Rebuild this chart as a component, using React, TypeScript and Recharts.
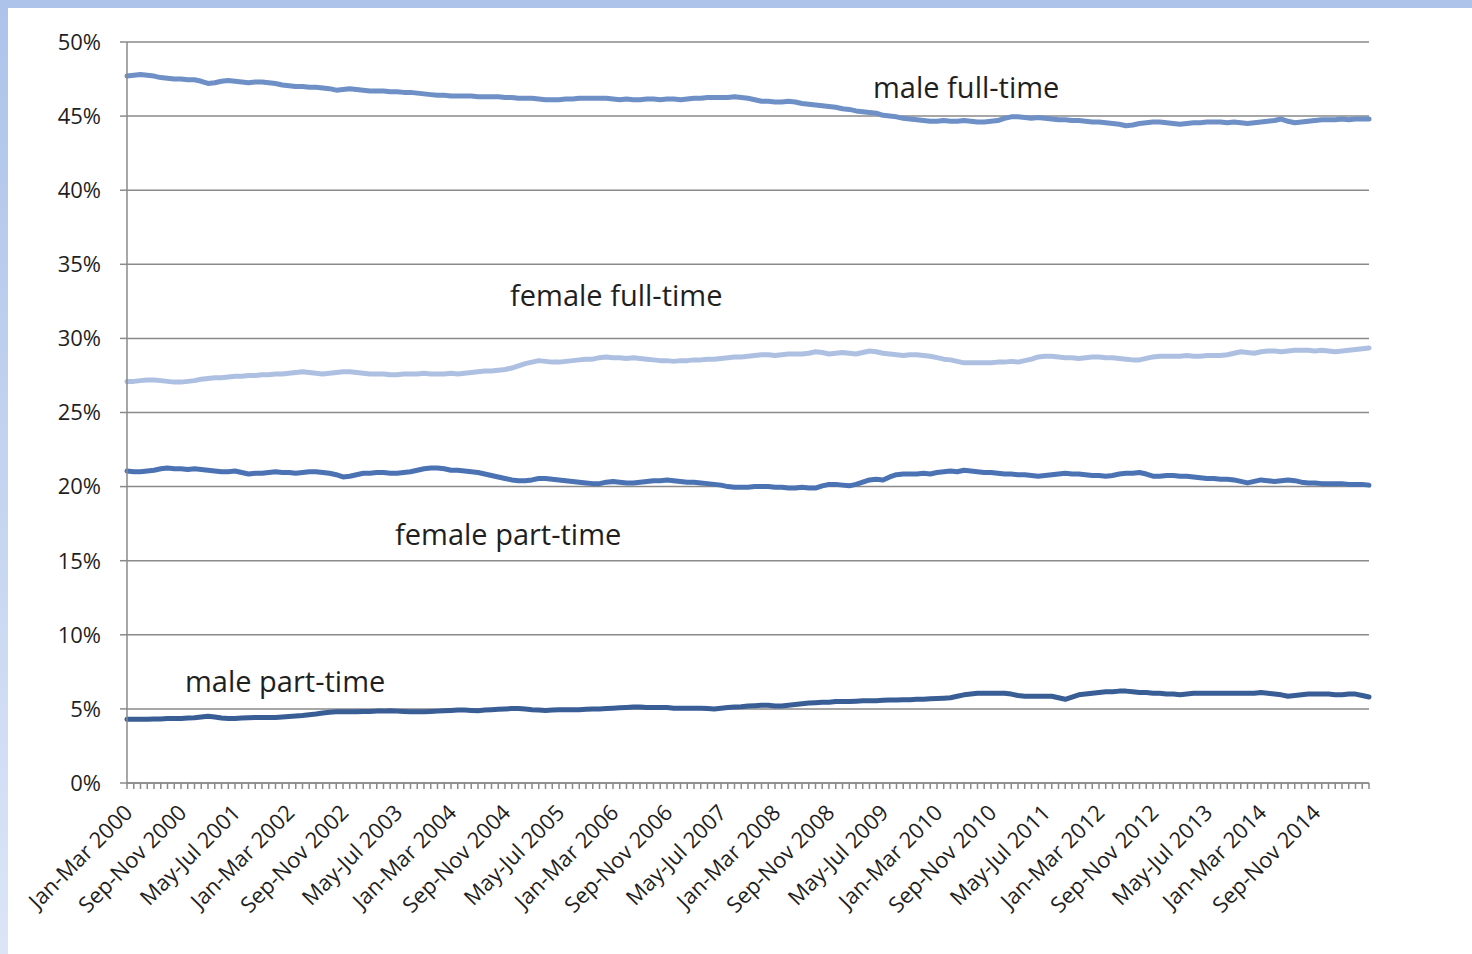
import React from 'react';
import { LineChart, Line, XAxis, YAxis, CartesianGrid } from 'recharts';

const MONTHS = ['Jan', 'Feb', 'Mar', 'Apr', 'May', 'Jun', 'Jul', 'Aug', 'Sep', 'Oct', 'Nov', 'Dec'];
const START_YEAR = 2000;
const N_PERIODS = 185;
const categories: string[] = Array.from({ length: N_PERIODS }, (_, i) => {
  const m = i % 12;
  const y = START_YEAR + Math.floor(i / 12);
  return `${MONTHS[m]}-${MONTHS[(m + 2) % 12]} ${y}`;
});

const yTicks = [0, 5, 10, 15, 20, 25, 30, 35, 40, 45, 50];

const maleFullTime = [
  47.7, 47.75, 47.8, 47.75, 47.7, 47.6, 47.55, 47.5, 47.5, 47.45,
  47.45, 47.35, 47.2, 47.25, 47.35, 47.4, 47.35, 47.3, 47.25, 47.3,
  47.3, 47.25, 47.2, 47.1, 47.05, 47.0, 47.0, 46.95, 46.95, 46.9,
  46.85, 46.75, 46.8, 46.85, 46.8, 46.75, 46.7, 46.7, 46.7, 46.65,
  46.65, 46.6, 46.6, 46.55, 46.5, 46.45, 46.4, 46.4, 46.35, 46.35,
  46.35, 46.35, 46.3, 46.3, 46.3, 46.3, 46.25, 46.25, 46.2, 46.2,
  46.2, 46.15, 46.1, 46.1, 46.1, 46.15, 46.15, 46.2, 46.2, 46.2,
  46.2, 46.2, 46.15, 46.1, 46.15, 46.1, 46.1, 46.15, 46.15, 46.1,
  46.15, 46.15, 46.1, 46.15, 46.2, 46.2, 46.25, 46.25, 46.25, 46.25,
  46.3, 46.25, 46.2, 46.1, 46.0, 46.0, 45.95, 45.95, 46.0, 45.95,
  45.85, 45.8, 45.75, 45.7, 45.65, 45.6, 45.5, 45.45, 45.35, 45.3,
  45.25, 45.2, 45.05, 45.0, 44.95, 44.85, 44.8, 44.75, 44.7, 44.65,
  44.65, 44.7, 44.65, 44.65, 44.7, 44.65, 44.6, 44.6, 44.65, 44.7,
  44.85, 44.95, 44.95, 44.9, 44.85, 44.9, 44.85, 44.8, 44.75, 44.75,
  44.7, 44.7, 44.65, 44.6, 44.6, 44.55, 44.5, 44.45, 44.35, 44.4,
  44.5, 44.55, 44.6, 44.6, 44.55, 44.5, 44.45, 44.5, 44.55, 44.55,
  44.6, 44.6, 44.6, 44.55, 44.6, 44.55, 44.5, 44.55, 44.6, 44.65,
  44.7, 44.8, 44.65, 44.55, 44.6, 44.65, 44.7, 44.75, 44.75, 44.75,
  44.8, 44.75, 44.8, 44.8, 44.8,
];

const femaleFullTime = [
  27.1, 27.1, 27.15, 27.2, 27.2, 27.15, 27.1, 27.05, 27.05, 27.1,
  27.15, 27.25, 27.3, 27.35, 27.35, 27.4, 27.45, 27.45, 27.5, 27.5,
  27.55, 27.55, 27.6, 27.6, 27.65, 27.7, 27.75, 27.7, 27.65, 27.6,
  27.65, 27.7, 27.75, 27.75, 27.7, 27.65, 27.6, 27.6, 27.6, 27.55,
  27.55, 27.6, 27.6, 27.6, 27.65, 27.6, 27.6, 27.6, 27.65, 27.6,
  27.65, 27.7, 27.75, 27.8, 27.8, 27.85, 27.9, 28.0, 28.15, 28.3,
  28.4, 28.5, 28.45, 28.4, 28.4, 28.45, 28.5, 28.55, 28.6, 28.6,
  28.7, 28.75, 28.7, 28.7, 28.65, 28.7, 28.65, 28.6, 28.55, 28.5,
  28.5, 28.45, 28.5, 28.5, 28.55, 28.55, 28.6, 28.6, 28.65, 28.7,
  28.75, 28.75, 28.8, 28.85, 28.9, 28.9, 28.85, 28.9, 28.95, 28.95,
  28.95, 29.0, 29.1, 29.05, 28.95, 29.0, 29.05, 29.0, 28.95, 29.05,
  29.15, 29.1, 29.0, 28.95, 28.9, 28.85, 28.9, 28.9, 28.85, 28.8,
  28.7, 28.6, 28.55, 28.45, 28.35, 28.35, 28.35, 28.35, 28.35, 28.4,
  28.4, 28.45, 28.4, 28.5, 28.6, 28.75, 28.8, 28.8, 28.75, 28.7,
  28.7, 28.65, 28.7, 28.75, 28.75, 28.7, 28.7, 28.65, 28.6, 28.55,
  28.55, 28.65, 28.75, 28.8, 28.8, 28.8, 28.8, 28.85, 28.8, 28.8,
  28.85, 28.85, 28.85, 28.9, 29.0, 29.1, 29.05, 29.0, 29.1, 29.15,
  29.15, 29.1, 29.15, 29.2, 29.2, 29.2, 29.15, 29.2, 29.15, 29.1,
  29.15, 29.2, 29.25, 29.3, 29.35,
];

const femalePartTime = [
  21.05, 21.0, 21.0, 21.05, 21.1, 21.2, 21.25, 21.2, 21.2, 21.15,
  21.2, 21.15, 21.1, 21.05, 21.0, 21.0, 21.05, 20.95, 20.85, 20.9,
  20.9, 20.95, 21.0, 20.95, 20.95, 20.9, 20.95, 21.0, 21.0, 20.95,
  20.9, 20.8, 20.65, 20.7, 20.8, 20.9, 20.9, 20.95, 20.95, 20.9,
  20.9, 20.95, 21.0, 21.1, 21.2, 21.25, 21.25, 21.2, 21.1, 21.1,
  21.05, 21.0, 20.95, 20.85, 20.75, 20.65, 20.55, 20.45, 20.4, 20.4,
  20.45, 20.55, 20.55, 20.5, 20.45, 20.4, 20.35, 20.3, 20.25, 20.2,
  20.2, 20.3, 20.35, 20.3, 20.25, 20.25, 20.3, 20.35, 20.4, 20.4,
  20.45, 20.4, 20.35, 20.3, 20.3, 20.25, 20.2, 20.15, 20.1, 20.0,
  19.95, 19.95, 19.95, 20.0, 20.0, 20.0, 19.95, 19.95, 19.9, 19.9,
  19.95, 19.9, 19.9, 20.05, 20.15, 20.15, 20.1, 20.05, 20.15, 20.3,
  20.45, 20.5, 20.45, 20.65, 20.8, 20.85, 20.85, 20.85, 20.9, 20.85,
  20.95, 21.0, 21.05, 21.0, 21.1, 21.05, 21.0, 20.95, 20.95, 20.9,
  20.85, 20.85, 20.8, 20.8, 20.75, 20.7, 20.75, 20.8, 20.85, 20.9,
  20.85, 20.85, 20.8, 20.75, 20.75, 20.7, 20.75, 20.85, 20.9, 20.9,
  20.95, 20.85, 20.7, 20.7, 20.75, 20.75, 20.7, 20.7, 20.65, 20.6,
  20.55, 20.55, 20.5, 20.5, 20.45, 20.35, 20.25, 20.35, 20.45, 20.4,
  20.35, 20.4, 20.45, 20.4, 20.3, 20.25, 20.25, 20.2, 20.2, 20.2,
  20.2, 20.15, 20.15, 20.15, 20.1,
];

const malePartTime = [
  4.3, 4.3, 4.3, 4.3, 4.32, 4.32, 4.35, 4.35, 4.35, 4.38,
  4.4, 4.45, 4.5, 4.45, 4.38, 4.35, 4.35, 4.38, 4.4, 4.42,
  4.42, 4.42, 4.42, 4.45, 4.48, 4.52, 4.55, 4.6, 4.65, 4.72,
  4.78, 4.8, 4.8, 4.8, 4.8, 4.82, 4.82, 4.85, 4.85, 4.87,
  4.85, 4.82, 4.8, 4.8, 4.8, 4.82, 4.85, 4.88, 4.9, 4.92,
  4.92, 4.9, 4.88, 4.92, 4.95, 4.98, 5.0, 5.02, 5.02, 5.0,
  4.95, 4.92, 4.9, 4.92, 4.95, 4.95, 4.95, 4.95, 4.98, 5.0,
  5.0, 5.02, 5.05, 5.08, 5.1, 5.12, 5.12, 5.1, 5.1, 5.1,
  5.1, 5.05, 5.05, 5.05, 5.05, 5.05, 5.02, 5.0, 5.05, 5.1,
  5.12, 5.15, 5.2, 5.22, 5.25, 5.25, 5.2, 5.2, 5.25, 5.3,
  5.35, 5.4, 5.42, 5.45, 5.45, 5.5, 5.5, 5.5, 5.52, 5.55,
  5.55, 5.55, 5.58, 5.6, 5.6, 5.62, 5.62, 5.65, 5.65, 5.68,
  5.7, 5.72, 5.75, 5.85, 5.95, 6.0, 6.05, 6.05, 6.05, 6.05,
  6.05, 6.0, 5.9, 5.85, 5.85, 5.85, 5.85, 5.85, 5.75, 5.65,
  5.8, 5.95, 6.0, 6.05, 6.1, 6.15, 6.15, 6.2, 6.2, 6.15,
  6.1, 6.1, 6.05, 6.05, 6.0, 6.0, 5.95, 6.0, 6.05, 6.05,
  6.05, 6.05, 6.05, 6.05, 6.05, 6.05, 6.05, 6.05, 6.1, 6.05,
  6.0, 5.95, 5.85, 5.9, 5.95, 6.0, 6.0, 6.0, 6.0, 5.95,
  5.95, 6.0, 6.0, 5.9, 5.8,
];

const data = categories.map((cat, i) => ({
  cat,
  maleFullTime: maleFullTime[i],
  femaleFullTime: femaleFullTime[i],
  femalePartTime: femalePartTime[i],
  malePartTime: malePartTime[i],
}));

const FONT = "'Open Sans', 'Noto Sans', sans-serif";
const TEXT_COLOR = '#1f1f1f';
const AXIS_COLOR = '#8a8a8a';
const LABEL_EVERY = 8;

const XTick = (props: any) => {
  const { x, y, payload } = props;
  const idx = payload && typeof payload.index === 'number' ? payload.index : props.index;
  if (idx % LABEL_EVERY !== 0 || idx + LABEL_EVERY >= N_PERIODS) return null;
  return (
    <g transform={`translate(${x + 7},${y + 25})`}>
      <text
        x={0}
        y={0}
        textAnchor="end"
        transform="rotate(-45)"
        fontFamily={FONT}
        fontSize={22}
        fill={TEXT_COLOR}
      >
        {payload.value}
      </text>
    </g>
  );
};

const annotations = [
  { text: 'male full-time', x: 873, y: 98 },
  { text: 'female full-time', x: 510, y: 306 },
  { text: 'female part-time', x: 395, y: 545 },
  { text: 'male part-time', x: 185, y: 692 },
];

export default function App() {
  return (
    <div
      style={{
        position: 'absolute',
        left: 0,
        top: 0,
        width: 1472,
        height: 954,
        background: 'linear-gradient(180deg, #adc3ea 0%, #c4d4f0 50%, #dbe5f6 100%)',
        overflow: 'hidden',
      }}
    >
      <div
        style={{
          position: 'absolute',
          left: 8,
          top: 8,
          width: 1464,
          height: 946,
          background: '#ffffff',
        }}
      />
      <div style={{ position: 'absolute', left: 0, top: 0 }}>
        <LineChart
          width={1472}
          height={954}
          data={data}
          margin={{ top: 42, right: 103, left: 0, bottom: 0 }}
        >
          <CartesianGrid vertical={false} stroke={AXIS_COLOR} strokeWidth={1.5} />
          <XAxis
            dataKey="cat"
            interval={0}
            height={171}
            tick={<XTick />}
            tickLine={{ stroke: AXIS_COLOR, strokeWidth: 1.5 }}
            axisLine={{ stroke: AXIS_COLOR, strokeWidth: 1.5 }}
            tickSize={6}
            tickMargin={0}
          />
          <YAxis
            width={127}
            domain={[0, 50]}
            ticks={yTicks}
            tickFormatter={(v: number) => `${v}%`}
            tick={{ fontFamily: FONT, fontSize: 22, fill: TEXT_COLOR }}
            tickLine={{ stroke: AXIS_COLOR, strokeWidth: 1.5 }}
            axisLine={{ stroke: AXIS_COLOR, strokeWidth: 1.5 }}
            tickSize={7}
            tickMargin={19}
            allowDataOverflow
          />
          <Line type="linear" dataKey="femaleFullTime" stroke="#adc0e2" strokeWidth={5} dot={false} isAnimationActive={false} strokeLinejoin="round" strokeLinecap="round" />
          <Line type="linear" dataKey="maleFullTime" stroke="#6e90c6" strokeWidth={5} dot={false} isAnimationActive={false} strokeLinejoin="round" strokeLinecap="round" />
          <Line type="linear" dataKey="femalePartTime" stroke="#4b72b3" strokeWidth={5} dot={false} isAnimationActive={false} strokeLinejoin="round" strokeLinecap="round" />
          <Line type="linear" dataKey="malePartTime" stroke="#395d95" strokeWidth={5} dot={false} isAnimationActive={false} strokeLinejoin="round" strokeLinecap="round" />
        </LineChart>
      </div>
      <svg
        width={1472}
        height={954}
        style={{ position: 'absolute', left: 0, top: 0, pointerEvents: 'none' }}
      >
        {annotations.map((a) => (
          <text key={a.text} x={a.x} y={a.y} fontFamily={FONT} fontSize={29} fill={TEXT_COLOR}>
            {a.text}
          </text>
        ))}
      </svg>
    </div>
  );
}
